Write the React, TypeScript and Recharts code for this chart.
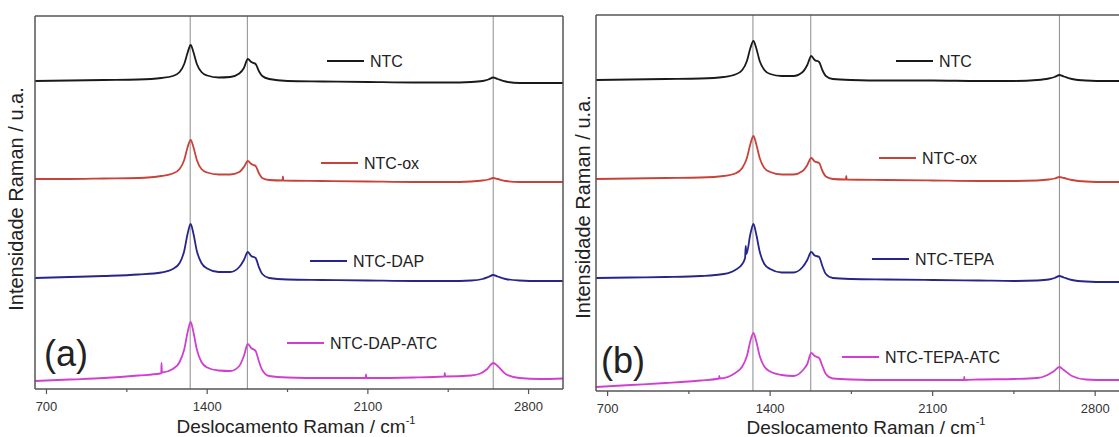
import { LineChart, Line, XAxis, YAxis, ReferenceLine } from 'recharts'

// Raman spectra, two panels; y values are offset intensities (u.a.).
type Pt = [number, number]

const X_DOMAIN: [number, number] = [650, 2950]
const MAJOR_TICKS = [700, 1400, 2100, 2800]
const ALL_TICKS = [700, 1050, 1400, 1750, 2100, 2450, 2800]
const BAND_LINES = [1326, 1575, 2646] // D, G, G'

// panel (a)
const ntcA: Pt[] = [[650,308],[800,308.5],[950,309],[1100,309.5],[1200,311],[1250,313],[1280,317],[1300,325],[1315,336.5],[1328,344],[1340,337],[1355,325],[1375,317],[1400,313.5],[1450,311.5],[1500,312],[1540,315.5],[1560,321],[1577,330],[1592,327],[1611,325],[1625,318],[1640,313],[1670,310],[1750,308],[1900,307.5],[2100,307],[2300,306.5],[2450,306.5],[2550,307],[2600,308],[2625,309.5],[2646,311.5],[2665,310],[2700,307.5],[2760,306],[2850,306],[2950,306]]
const oxA: Pt[] = [[650,210],[800,210],[950,210.5],[1100,211],[1200,213],[1250,215.5],[1280,220],[1300,229],[1315,242],[1328,249],[1340,242],[1355,229],[1375,220],[1400,216.5],[1450,214.5],[1500,214.5],[1540,217],[1560,222],[1577,228],[1592,225],[1611,223],[1625,216],[1640,211],[1670,209],[1728,208.5],[1730,212.5],[1732,208.5],[1900,208],[2100,207.5],[2300,207],[2450,207],[2550,207.5],[2600,208.5],[2625,209.5],[2646,211],[2665,210],[2700,208],[2760,207],[2850,207],[2950,207]]
const dapA: Pt[] = [[650,111],[800,112],[950,113],[1100,114.5],[1200,116.5],[1250,120],[1280,126],[1300,138],[1315,155.5],[1328,165],[1340,155.5],[1355,138],[1375,126],[1400,120.5],[1450,117],[1500,117],[1540,122],[1560,129],[1577,137],[1592,133],[1611,131],[1625,122],[1640,115],[1670,111],[1750,109.5],[1900,109],[2100,108.5],[2300,108],[2450,108],[2550,108.5],[2600,110],[2625,112],[2646,114],[2665,112.5],[2700,110],[2760,108.5],[2850,108],[2950,108]]
const dapAtcA: Pt[] = [[650,8],[800,9.5],[950,11],[1100,13.5],[1195,15.5],[1200,16],[1201,26],[1203,16.5],[1250,20],[1280,27],[1300,39.5],[1315,57],[1328,67],[1340,57],[1355,39.5],[1375,27],[1400,21.5],[1450,18.5],[1500,18],[1540,23],[1560,33],[1577,45],[1592,41],[1611,38],[1625,28],[1640,19],[1670,13],[1750,11.5],[1900,11],[2090,11],[2092,14.5],[2094,11],[2300,11.5],[2433,12.5],[2435,16],[2437,12.5],[2550,13.5],[2590,15.5],[2620,20],[2646,26],[2665,23],[2700,15],[2760,11],[2850,10],[2950,10.5]]

// panel (b)
const ntcB: Pt[] = [[650,311],[800,311.5],[950,312],[1100,312.5],[1200,314],[1250,316.5],[1280,321],[1300,330],[1315,343],[1328,350],[1340,343],[1355,330],[1375,321],[1400,317],[1450,315],[1500,315],[1540,319],[1560,326],[1577,335],[1592,331],[1611,329],[1625,321],[1640,315],[1670,312],[1750,311],[1900,310.5],[2100,310.5],[2300,310],[2450,310],[2550,311],[2600,312.5],[2625,314],[2646,316],[2665,314.5],[2700,312],[2760,310.5],[2850,310],[2950,310]]
const oxB: Pt[] = [[650,212],[800,212.5],[950,213],[1100,213.5],[1200,215],[1250,217.5],[1280,223],[1300,233],[1315,247],[1328,255],[1340,247],[1355,233],[1375,223],[1400,219],[1450,216.5],[1500,216.5],[1540,220],[1560,226],[1577,233],[1592,229.5],[1611,228],[1625,220],[1640,214.5],[1670,212],[1726,211.5],[1728,215],[1730,211.5],[1900,211],[2100,210.5],[2300,210],[2450,210],[2550,210.5],[2600,211.5],[2625,212.5],[2646,214],[2665,213],[2700,211],[2760,209.5],[2850,209],[2950,209]]
const tepaB: Pt[] = [[650,113],[800,113.5],[950,114],[1100,115],[1200,117],[1250,121],[1280,127],[1292,133],[1295,145],[1298,137],[1315,157],[1328,167],[1340,157],[1355,139.5],[1375,127],[1400,122],[1450,118.5],[1500,118.5],[1540,124],[1560,131],[1577,139],[1592,135.5],[1611,134],[1625,125],[1640,117],[1670,113],[1750,112],[1900,111.5],[2100,111],[2300,110.5],[2450,110],[2550,110.5],[2600,111.5],[2625,113],[2646,115],[2665,113.5],[2700,111],[2760,109.5],[2850,109],[2950,109]]
const tepaAtcB: Pt[] = [[650,4],[800,6],[950,8],[1100,10.5],[1180,12.5],[1181,15],[1183,12.5],[1250,18],[1280,24.5],[1300,35],[1315,50],[1328,58],[1340,50],[1355,35],[1375,24.5],[1400,19.5],[1450,16],[1500,15],[1540,20.5],[1560,27],[1577,38],[1592,35],[1611,33],[1625,25],[1640,17],[1670,12.5],[1750,11.5],[1900,11],[2100,11],[2235,11],[2236,14],[2238,11],[2300,11.5],[2450,12],[2550,13],[2590,15.5],[2620,19.5],[2646,24],[2665,21],[2700,15],[2760,11.5],[2850,11],[2950,11]]

const BLACK = '#1a1a1a'
const RED = '#c9423a'
const BLUE = '#25258c'
const MAGENTA = '#d03fd0'

const seriesA = [
  { name: 'NTC', pts: ntcA, color: BLACK },
  { name: 'NTC-ox', pts: oxA, color: RED },
  { name: 'NTC-DAP', pts: dapA, color: BLUE },
  { name: 'NTC-DAP-ATC', pts: dapAtcA, color: MAGENTA },
]
const seriesB = [
  { name: 'NTC', pts: ntcB, color: BLACK },
  { name: 'NTC-ox', pts: oxB, color: RED },
  { name: 'NTC-TEPA', pts: tepaB, color: BLUE },
  { name: 'NTC-TEPA-ATC', pts: tepaAtcB, color: MAGENTA },
]

const rows = (pts: Pt[]) => pts.map(([w, v]) => ({ w, v }))
const frame = { stroke: '#555', strokeWidth: 1.5 }

function AxisTick(props: any) {
  const { x, y, payload } = props
  const major = MAJOR_TICKS.includes(payload.value)
  return (
    <g>
      <line x1={x} x2={x} y1={y} y2={y + (major ? 5 : 3)} stroke="#555" strokeWidth={1.2} />
      {major && (
        <text x={x} y={y + 22} textAnchor="middle" fontSize={13} fill="#333">
          {payload.value}
        </text>
      )}
    </g>
  )
}

// axes are 1px thick so recharts actually draws them; margins are 1px smaller to compensate
function Panel({ series, yMax, margin, left }: any) {
  return (
    <div style={{ position: 'absolute', left, top: 0 }}>
      <LineChart width={600} height={437} margin={margin}>
        <XAxis
          dataKey="w"
          type="number"
          domain={X_DOMAIN}
          ticks={ALL_TICKS}
          interval={0}
          allowDataOverflow
          height={1}
          tickSize={0}
          tickMargin={0}
          tickLine={false}
          tick={(p: any) => <AxisTick {...p} />}
          axisLine={frame}
        />
        <XAxis xAxisId="top" orientation="top" type="number" domain={X_DOMAIN} height={1} tick={false} tickLine={false} axisLine={frame} />
        <YAxis type="number" domain={[0, yMax]} width={1} tick={false} tickLine={false} axisLine={frame} allowDataOverflow />
        <YAxis yAxisId="r" orientation="right" type="number" domain={[0, yMax]} width={1} tick={false} tickLine={false} axisLine={frame} />
        {BAND_LINES.map((b) => (
          <ReferenceLine key={b} x={b} stroke="#8c8c8c" strokeWidth={1} />
        ))}
        {series.map((s: any) => (
          <Line
            key={s.name}
            data={rows(s.pts)}
            dataKey="v"
            type="monotone"
            stroke={s.color}
            strokeWidth={1.8}
            dot={false}
            isAnimationActive={false}
          />
        ))}
      </LineChart>
    </div>
  )
}

// in-plot legend entries: [x of swatch start, y centre]
const legendA: [number, number][] = [[327, 61], [321, 163], [310, 261], [287, 343]]
const legendB: [number, number][] = [[896, 61], [879, 158], [872, 259], [842, 357]]

function Legend({ series, pos }: any) {
  return (
    <>
      {series.map((s: any, i: number) => {
        const [x, y] = pos[i]
        return (
          <g key={s.name + i}>
            <line x1={x} x2={x + 37} y1={y} y2={y} stroke={s.color} strokeWidth={1.8} />
            <text x={x + 43} y={y + 5.5} fontSize={16} fill="#222">{s.name}</text>
          </g>
        )
      })}
    </>
  )
}

export default function App() {
  return (
    <div
      style={{
        position: 'fixed',
        left: 0,
        top: 0,
        width: 1119,
        height: 437,
        overflow: 'hidden',
        background: '#fff',
        fontFamily: '"Liberation Sans", Arial, sans-serif',
      }}
    >
      <Panel series={seriesA} yMax={373} left={0} margin={{ top: 15, right: 36, bottom: 47, left: 34 }} />
      <Panel series={seriesB} yMax={376} left={560} margin={{ top: 14, right: 29, bottom: 45, left: 35 }} />
      <svg width={1119} height={437} style={{ position: 'absolute', left: 0, top: 0, pointerEvents: 'none' }}>
        <g fontFamily='"Liberation Sans", Arial, sans-serif' fill="#222">
          <text transform="translate(23,199) rotate(-90)" textAnchor="middle" fontSize={20}>Intensidade Raman / u.a.</text>
          <text transform="translate(590,207) rotate(-90)" textAnchor="middle" fontSize={20}>Intensidade Raman / u.a.</text>
          <text x={296} y={433} textAnchor="middle" fontSize={19}>
            Deslocamento Raman / cm<tspan dy={-9} fontSize={11}>-1</tspan>
          </text>
          <text x={866} y={434} textAnchor="middle" fontSize={19}>
            Deslocamento Raman / cm<tspan dy={-9} fontSize={11}>-1</tspan>
          </text>
          <text x={44} y={366} fontSize={36}>(a)</text>
          <text x={601} y={373} fontSize={36}>(b)</text>
          <Legend series={seriesA} pos={legendA} />
          <Legend series={seriesB} pos={legendB} />
        </g>
      </svg>
    </div>
  )
}
